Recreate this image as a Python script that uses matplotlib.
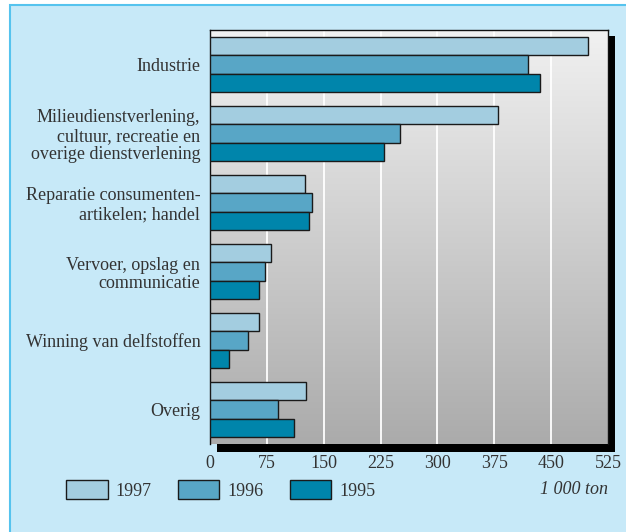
import matplotlib
matplotlib.use("Agg")
import matplotlib.pyplot as plt
import numpy as np
from matplotlib.patches import Rectangle
from matplotlib.colors import LinearSegmentedColormap

categories = [
    "Industrie",
    "Milieudienstverlening,\ncultuur, recreatie en\noverige dienstverlening",
    "Reparatie consumenten-\nartikelen; handel",
    "Vervoer, opslag en\ncommunicatie",
    "Winning van delfstoffen",
    "Overig",
]
years = ["1997", "1996", "1995"]
v1997 = [499, 380, 125, 80, 65, 127]
v1996 = [419, 250, 135, 73, 50, 90]
v1995 = [435, 230, 130, 64, 25, 111]
xticks = [0, 75, 150, 225, 300, 375, 450, 525]
unit_label = "1 000 ton"

colors = ["#A3CDE0", "#58A6C6", "#0085AB"]
text_color = "#333333"
plt.rcParams['font.family'] = ['Liberation Serif', 'DejaVu Serif']
fs = 13

W, H = 626, 532
dpi = 100
fig = plt.figure(figsize=(W / dpi, H / dpi), dpi=dpi)
fig.patch.set_facecolor("white")

def px(x, y, w, h):
    return (x / W, 1 - (y + h) / H, w / W, h / H)

# outer panel
pl, pb, pw, ph = px(10, 5, 640, 560)
fig.patches.append(Rectangle((pl, pb), pw, ph, transform=fig.transFigure,
                             facecolor="#C7E9F8", edgecolor="#55C3EE",
                             linewidth=1.5, zorder=0))

ax_l, ax_t, ax_r, ax_b = 210, 30, 608, 444
# shadow
sl, sb, sw, sh = px(ax_l + 7, ax_t + 6, ax_r - ax_l, ax_b - ax_t + 1.5)
fig.patches.append(Rectangle((sl, sb), sw, sh, transform=fig.transFigure,
                             facecolor="black", edgecolor="none", zorder=1))

ax = fig.add_axes(px(ax_l, ax_t, ax_r - ax_l, ax_b - ax_t))
ax.set_zorder(2)

# gradient background
grad = np.linspace(0, 1, 256).reshape(-1, 1)
cmap = LinearSegmentedColormap.from_list("g", ["#F1F1F1", "#ABABAB"])
ax.imshow(grad, cmap=cmap, aspect="auto", extent=[0, 525, 5.5, -0.5],
          zorder=0, interpolation="bicubic")

y = np.arange(len(categories))
h = 0.27
series = [v1997, v1996, v1995]
offsets = [-h, 0, h]
bars = []
for vals, off, c, yr in zip(series, offsets, colors, years):
    b = ax.barh(y + off, vals, height=h, color=c, edgecolor="#1a1a1a",
                linewidth=1.0, label=yr, zorder=3)
    bars.append(b)

for xv in xticks[1:-1]:
    ax.axvline(xv, color="white", linewidth=1.3, zorder=1)

ax.set_xlim(0, 525)
ax.set_ylim(5.5, -0.5)
ax.set_xticks(xticks)
ax.set_xticklabels([str(t) for t in xticks], fontsize=fs, color=text_color)
ax.set_yticks(y)
ax.set_yticklabels(categories, fontsize=fs, color=text_color,
                   linespacing=1.12, multialignment="right")
ax.tick_params(axis="both", length=0)
ax.tick_params(axis="x", pad=8)
ax.tick_params(axis="y", pad=7)
for s in ["left", "top", "right"]:
    ax.spines[s].set_color("#111111")
    ax.spines[s].set_linewidth(1.0)
ax.spines["bottom"].set_visible(False)

leg = fig.legend(handles=bars, labels=years, ncol=3, frameon=False,
                 loc="center left", bbox_to_anchor=(66 / W, 1 - 490 / H),
                 fontsize=fs, handlelength=2.3, handleheight=1.2,
                 handletextpad=0.45, columnspacing=1.45, borderpad=0,
                 borderaxespad=0)
for t in leg.get_texts():
    t.set_color(text_color)

fig.text(608 / W, 1 - 490 / H, unit_label, ha="right", va="center",
         fontsize=fs, style="italic", color=text_color)

fig.savefig("out.png", dpi=dpi)
